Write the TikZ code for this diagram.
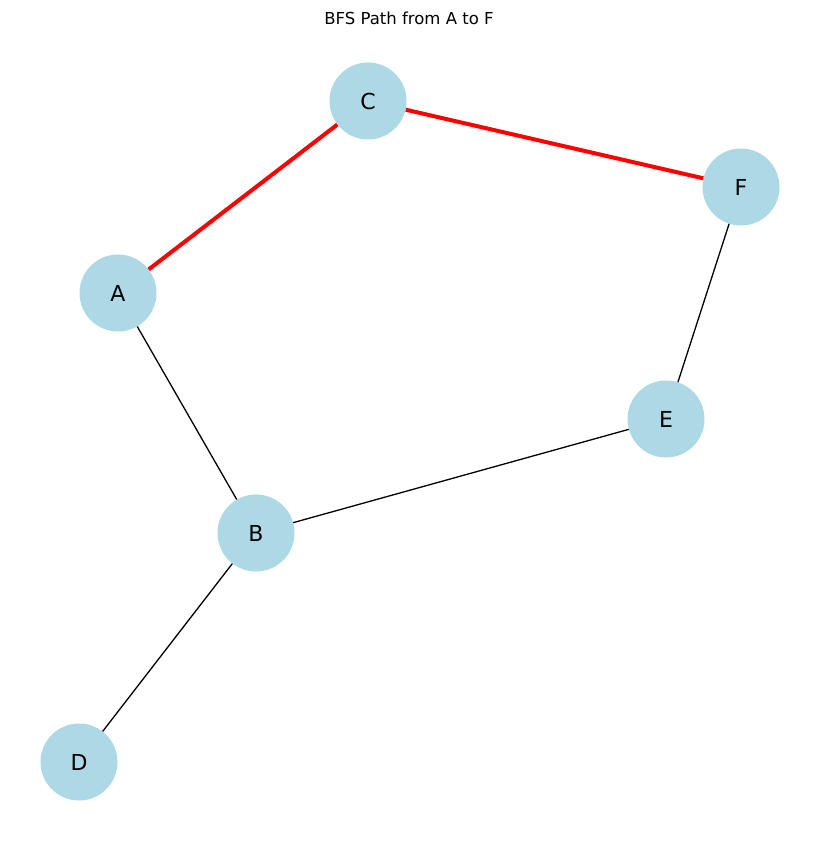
\documentclass[tikz,border=0pt]{standalone}
\usepackage{fontspec}
\setmainfont{DejaVu Sans}
\definecolor{nodeblue}{HTML}{ADD8E6}

\begin{document}
\begin{tikzpicture} [x=1pt, y=-1pt,
		vertex/.style={circle, fill=nodeblue, minimum size=77pt, inner sep=0pt, font=\fontsize{22}{26}\selectfont},
		edge/.style={line width=1.3pt, black},
		pathedge/.style={line width=4pt, red}]
		%\draw [thin, help lines] (0,0) grid (819,842);
		\useasboundingbox (0,0) rectangle (819,842);
		\node (title) at (409,18) {\fontsize{16.5}{20}\selectfont BFS Path from A to F};
		\node[vertex] (A) at (118,293) {A};
		\node[vertex] (B) at (256,533) {B};
		\node[vertex] (C) at (368,101) {C};
		\node[vertex] (D) at (79,762) {D};
		\node[vertex] (E) at (666,419) {E};
		\node[vertex] (F) at (741,187) {F};
		\draw[edge] (A) -- (B);
		\draw[edge] (B) -- (E);
		\draw[edge] (E) -- (F);
		\draw[edge] (B) -- (D);
		\draw[pathedge] (A) -- (C);
		\draw[pathedge] (C) -- (F);
	\end{tikzpicture}
\end{document}
